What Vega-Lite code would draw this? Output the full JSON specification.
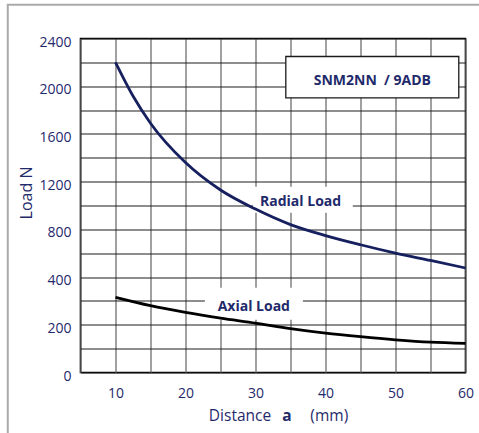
{
  "$schema": "https://vega.github.io/schema/vega-lite/v6.json",
  "autosize": {"type": "none"},
  "padding": {"left": 80.5, "top": 38.5, "right": 13.5, "bottom": 60.5},
  "width": 385,
  "height": 334,
  "background": "white",
  "config": {
    "font": "Open Sans",
    "view": {"stroke": "#000000", "strokeWidth": 1.6}
  },
  "resolve": {"axis": {"x": "independent", "y": "independent"}},
  "datasets": {
    "curves": [
      {"a": 10, "load": 2200, "series": "Radial"},
      {"a": 12.5, "load": 1918, "series": "Radial"},
      {"a": 15, "load": 1690, "series": "Radial"},
      {"a": 20, "load": 1360, "series": "Radial"},
      {"a": 25, "load": 1130, "series": "Radial"},
      {"a": 30, "load": 970, "series": "Radial"},
      {"a": 35, "load": 840, "series": "Radial"},
      {"a": 40, "load": 748, "series": "Radial"},
      {"a": 45, "load": 671, "series": "Radial"},
      {"a": 50, "load": 601, "series": "Radial"},
      {"a": 55, "load": 539, "series": "Radial"},
      {"a": 60, "load": 476, "series": "Radial"},
      {"a": 10, "load": 315, "series": "Axial"},
      {"a": 15, "load": 280, "series": "Axial"},
      {"a": 20, "load": 252, "series": "Axial"},
      {"a": 25, "load": 228, "series": "Axial"},
      {"a": 30, "load": 207, "series": "Axial"},
      {"a": 35, "load": 184, "series": "Axial"},
      {"a": 40, "load": 165, "series": "Axial"},
      {"a": 45, "load": 150, "series": "Axial"},
      {"a": 50, "load": 137, "series": "Axial"},
      {"a": 55, "load": 127, "series": "Axial"},
      {"a": 60, "load": 122, "series": "Axial"}
    ]
  },
  "layer": [
    {
      "data": {"values": [{"k": 1}]},
      "mark": {"type": "rect", "fill": "white", "stroke": null},
      "encoding": {
        "x": {
          "datum": 29.64, "type": "quantitative",
          "scale": {"domain": [5, 60], "nice": false, "zero": false},
          "axis": {
            "values": [5, 10, 15, 20, 25, 30, 35, 40, 45, 50, 55, 60],
            "labelExpr": "datum.value % 10 === 0 ? datum.label : ''",
            "format": "d",
            "title": null,
            "domain": false,
            "ticks": false,
            "tickSize": 0,
            "labelPadding": 14,
            "labelFontSize": 14,
            "labelColor": "#1f2a6b",
            "labelFlush": false,
            "labelOverlap": false,
            "labelBound": false,
            "grid": true,
            "gridColor": "#6e6e6e",
            "gridWidth": 1.3,
            "gridOpacity": 1
          }
        },
        "x2": {"datum": 43.9},
        "y": {
          "datum": 1157, "type": "quantitative",
          "scale": {"domain": [0, 400, 2400], "range": [334, 238.571, 0], "nice": false, "zero": false},
          "axis": {
            "values": [0, 100, 200, 300, 400, 600, 800, 1000, 1200, 1400, 1600, 1800, 2000, 2200, 2400],
            "labelExpr": "indexof([0,200,400,800,1200,1600,2000,2400], datum.value) >= 0 ? datum.label : ''",
            "format": "d",
            "title": "Load N",
            "titleFontSize": 16,
            "titleFontWeight": "normal",
            "titleColor": "#1f2a6b",
            "titleAngle": 270,
            "titleBaseline": "middle",
            "titleAlign": "center",
            "titleX": -54,
            "titleY": 154,
            "domain": false,
            "ticks": false,
            "tickSize": 0,
            "labelPadding": 9.5,
            "labelOffset": 3.5,
            "labelFontSize": 14,
            "labelColor": "#1f2a6b",
            "labelOverlap": false,
            "labelBound": false,
            "labelFlush": false,
            "grid": true,
            "gridColor": "#1c1c1c",
            "gridWidth": 1.2,
            "gridOpacity": 1
          }
        },
        "y2": {"datum": 939}
      }
    },
    {
      "data": {"values": [{"k": 1}]},
      "mark": {"type": "rect", "fill": "white", "stroke": null},
      "encoding": {
        "x": {"datum": 22.77, "type": "quantitative", "axis": null}, "x2": {"datum": 36.77},
        "y": {"datum": 355, "type": "quantitative", "axis": null}, "y2": {"datum": 221}
      }
    },
    {
      "data": {"values": [{"k": 1}]},
      "mark": {"type": "rect", "fill": "white", "stroke": "#1a1a1a", "strokeWidth": 1.3},
      "encoding": {
        "x": {"datum": 34.33, "type": "quantitative", "axis": null}, "x2": {"datum": 59.04},
        "y": {"datum": 2249, "type": "quantitative", "axis": null}, "y2": {"datum": 1903}
      }
    },
    {
      "data": {"name": "curves"},
      "mark": {"type": "line", "interpolate": "monotone", "strokeWidth": 2.8},
      "encoding": {
        "x": {"field": "a", "type": "quantitative", "axis": null},
        "y": {"field": "load", "type": "quantitative", "axis": null},
        "color": {
          "field": "series", "type": "nominal",
          "scale": {"domain": ["Radial", "Axial"], "range": ["#17205f", "#000000"]},
          "legend": null
        }
      }
    },
    {
      "data": {"values": [{"k": 1}]},
      "mark": {"type": "text", "text": "Radial Load", "fontWeight": "bold", "fontSize": 14, "color": "#1f2a6b", "align": "center", "baseline": "alphabetic"},
      "encoding": {"x": {"datum": 36.44, "type": "quantitative", "axis": null}, "y": {"datum": 998, "type": "quantitative", "axis": null}}
    },
    {
      "data": {"values": [{"k": 1}]},
      "mark": {"type": "text", "text": "Axial Load", "fontWeight": "bold", "fontSize": 14, "color": "#1f2a6b", "align": "center", "baseline": "alphabetic"},
      "encoding": {"x": {"datum": 29.76, "type": "quantitative", "axis": null}, "y": {"datum": 256, "type": "quantitative", "axis": null}}
    },
    {
      "data": {"values": [{"k": 1}]},
      "mark": {"type": "text", "text": "SNM2NN\u00a0\u00a0/ 9ADB", "fontWeight": "bold", "fontSize": 14, "color": "#1f2a6b", "align": "center", "baseline": "alphabetic"},
      "encoding": {"x": {"datum": 46.69, "type": "quantitative", "axis": null}, "y": {"datum": 2012, "type": "quantitative", "axis": null}}
    },
    {
      "data": {"values": [{"k": 1}]},
      "mark": {"type": "text", "text": "Distance", "fontSize": 15.5, "color": "#1f2a6b", "align": "center", "baseline": "alphabetic"},
      "encoding": {"x": {"datum": 27.79, "type": "quantitative", "axis": null}, "y": {"datum": -205, "type": "quantitative", "axis": null}}
    },
    {
      "data": {"values": [{"k": 1}]},
      "mark": {"type": "text", "text": "a", "fontWeight": "bold", "fontSize": 15.5, "color": "#1f2a6b", "align": "center", "baseline": "alphabetic"},
      "encoding": {"x": {"datum": 34.5, "type": "quantitative", "axis": null}, "y": {"datum": -205, "type": "quantitative", "axis": null}}
    },
    {
      "data": {"values": [{"k": 1}]},
      "mark": {"type": "text", "text": "(mm)", "fontSize": 15.5, "color": "#1f2a6b", "align": "center", "baseline": "alphabetic"},
      "encoding": {"x": {"datum": 40.54, "type": "quantitative", "axis": null}, "y": {"datum": -205, "type": "quantitative", "axis": null}}
    },
    {
      "data": {"values": [{"k": 1}]},
      "mark": {"type": "rect", "fill": null, "stroke": "#aaaaaa", "strokeWidth": 2},
      "encoding": {
        "x": {"datum": -5.39, "type": "quantitative", "axis": null}, "x2": {"datum": 80},
        "y": {"datum": 2682, "type": "quantitative", "axis": null}, "y2": {"datum": -1000}
      }
    }
  ]
}
